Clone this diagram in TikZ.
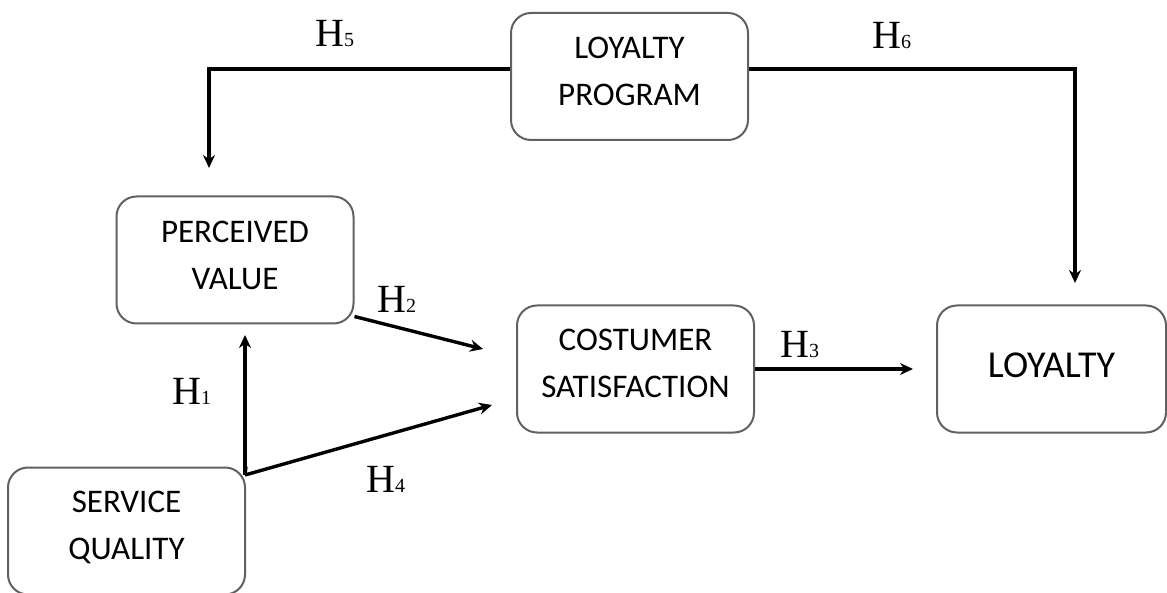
\documentclass[tikz,border=0pt]{standalone}
\usepackage{fontspec}
\setmainfont{Carlito}
\newfontfamily\hfont{Liberation Serif}
\usetikzlibrary{arrows.meta}
\begin{document}
\begin{tikzpicture}[x=1pt,y=-1pt,
 box/.style={draw=black!62, line width=2pt, rounded corners=20pt,
   minimum width=237pt, minimum height=127pt, inner sep=0pt},
 txt/.style={align=center, inner sep=0pt, font=\fontsize{33}{47}\selectfont},
 conn/.style={line width=3.4pt, -{Stealth[length=13pt,width=12pt]}},
 hyp/.style={anchor=base west, inner sep=0pt, font=\fontsize{40}{40}\hfont}]
\useasboundingbox (0,0) rectangle (1167,593);
\node[box] (lp) at (629.5,76.5) {};
\node[box] (pv) at (235,260) {};
\node[box] (cs) at (635.5,369) {};
\node[box, minimum width=229pt] (loy) at (1051.5,369) {};
\node[box] (sq) at (126.5,531) {};
\node[txt] (lpt) at ([yshift=5.5pt]lp.center) {LOYALTY\\PROGRAM};
\node[txt] (pvt) at ([yshift=5pt]pv.center) {PERCEIVED\\VALUE};
\node[txt] (cst) at ([yshift=6pt]cs.center) {COSTUMER\\SATISFACTION};
\node[txt, font=\fontsize{38}{40}\selectfont] (loyt) at ([yshift=4pt]loy.center) {LOYALTY};
\node[txt] (sqt) at ([yshift=3.5pt]sq.center) {SERVICE\\QUALITY};
\coordinate (pvin) at (209,168);
\coordinate (loyin) at (1075,283);
\coordinate (csin1) at (483,349);
\coordinate (loyin2) at (913,369);
\coordinate (pvin2) at (245,335);
\coordinate (csin2) at (492,405);
\coordinate (sqout) at (245,475);
\draw[conn] ([yshift=7.5pt]lp.west) -| (pvin);
\draw[conn] ([yshift=7.5pt]lp.east) -| (loyin);
\draw[conn] ([yshift=8pt]pv.south east) -- (csin1);
\draw[conn] (cs.east) -- (loyin2);
\draw[conn, -] (sq.north east) -- (sqout);
\draw[conn] (sqout) -- (pvin2);
\draw[conn] (sqout) -- (csin2);
\node[hyp] (h5) at (315,47) {H{\fontsize{20}{20}\selectfont 5}};
\node[hyp] (h6) at (872,49) {H{\fontsize{20}{20}\selectfont 6}};
\node[hyp] (h2) at (377,313) {H{\fontsize{20}{20}\selectfont 2}};
\node[hyp] (h3) at (780,358) {H{\fontsize{20}{20}\selectfont 3}};
\node[hyp] (h1) at (172,404) {H{\fontsize{20}{20}\selectfont 1}};
\node[hyp] (h4) at (366,492) {H{\fontsize{20}{20}\selectfont 4}};
\end{tikzpicture}
\end{document}
